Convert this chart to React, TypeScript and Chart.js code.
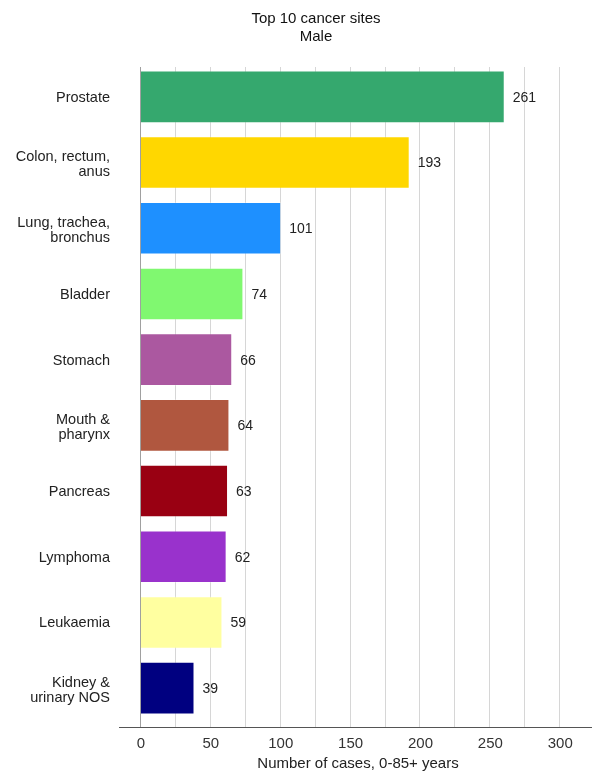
import React, { useEffect, useRef } from "react";
import { Chart, registerables } from "chart.js";

Chart.register(...registerables);

const categories: (string | string[])[] = [
  "Prostate",
  ["Colon, rectum,", "anus"],
  ["Lung, trachea,", "bronchus"],
  "Bladder",
  "Stomach",
  ["Mouth &", "pharynx"],
  "Pancreas",
  "Lymphoma",
  "Leukaemia",
  ["Kidney &", "urinary NOS"],
];
const cases = [261, 193, 101, 74, 66, 64, 63, 62, 59, 39];
const barColors = [
  "#35A86E",
  "#FFD700",
  "#1E90FF",
  "#80F870",
  "#AB58A0",
  "#B0573F",
  "#990012",
  "#9932CC",
  "#FFFFA0",
  "#000080",
];
const gridValues = [0, 25, 50, 75, 100, 125, 150, 175, 200, 225, 250, 275, 300];
const titleLines = ["Top 10 cancer sites", "Male"];
const xAxisTitle = "Number of cases, 0-85+ years";

const FONT = "'Liberation Sans', Arial, sans-serif";

export default function App() {
  const ref = useRef<HTMLCanvasElement | null>(null);
  useEffect(() => {
    document.body.style.margin = "0";
    const canvas = ref.current!;
    const decor = {
      id: "decor",
      beforeDatasetsDraw(chart: any) {
        const ctx = chart.ctx;
        const xs = chart.scales.x;
        ctx.save();
        ctx.strokeStyle = "#d6d6d6";
        ctx.lineWidth = 1;
        gridValues.forEach((v) => {
          const px = Math.round(xs.getPixelForValue(v)) + 0.5;
          ctx.beginPath();
          ctx.moveTo(px, 67);
          ctx.lineTo(px, 727);
          ctx.stroke();
        });
        ctx.restore();
      },
      afterDraw(chart: any) {
        const ctx = chart.ctx;
        const xs = chart.scales.x;
        const ys = chart.scales.y;
        ctx.save();
        // titles
        ctx.fillStyle = "#111";
        ctx.font = `15px ${FONT}`;
        ctx.textAlign = "center";
        ctx.textBaseline = "middle";
        ctx.fillText(titleLines[0], 316, 19);
        ctx.fillText(titleLines[1], 316, 37);
        // y axis line
        const x0 = Math.round(xs.getPixelForValue(0)) + 0.5;
        ctx.strokeStyle = "#a0a0a0";
        ctx.lineWidth = 1;
        ctx.beginPath();
        ctx.moveTo(x0, 67);
        ctx.lineTo(x0, 727);
        ctx.stroke();
        // bottom axis line
        ctx.strokeStyle = "#555";
        ctx.beginPath();
        ctx.moveTo(119, 727.5);
        ctx.lineTo(592, 727.5);
        ctx.stroke();
        // x tick labels
        ctx.fillStyle = "#333";
        ctx.font = `15px ${FONT}`;
        gridValues.forEach((v) => {
          if (v % 50 === 0) ctx.fillText(String(v), xs.getPixelForValue(v) + 1, 744);
        });
        // x axis title
        ctx.fillStyle = "#222";
        ctx.fillText(xAxisTitle, 358, 764);
        // y category labels
        ctx.font = `14.5px ${FONT}`;
        ctx.textAlign = "right";
        categories.forEach((c, i) => {
          const cy = ys.getPixelForValue(i);
          if (Array.isArray(c)) {
            ctx.fillText(c[0], 110, cy - 5.5);
            ctx.fillText(c[1], 110, cy + 9.5);
          } else {
            ctx.fillText(c, 110, cy + 1);
          }
        });
        // value labels
        ctx.font = `14px ${FONT}`;
        ctx.textAlign = "left";
        ctx.fillStyle = "#222";
        const meta = chart.getDatasetMeta(0);
        meta.data.forEach((bar: any, i: number) => {
          ctx.fillText(String(cases[i]), bar.x + 8, bar.y + 1);
        });
        ctx.restore();
      },
    };
    const chart = new Chart(canvas, {
      type: "bar",
      data: {
        labels: categories,
        datasets: [
          {
            data: cases,
            backgroundColor: barColors,
            borderColor: "rgba(255,255,255,0.25)",
            borderWidth: 1,
            barPercentage: 0.8,
            categoryPercentage: 1,
          },
        ],
      },
      options: {
        indexAxis: "y",
        animation: false,
        responsive: false,
        maintainAspectRatio: false,
        layout: { padding: { top: 64, right: 16, left: 0, bottom: 0 } },
        plugins: {
          legend: { display: false },
          tooltip: { enabled: false },
          title: { display: false },
        },
        scales: {
          x: {
            min: 0,
            max: 312,
            grid: { display: false, drawTicks: false },
            border: { display: false },
            ticks: { display: false },
            afterFit: (s: any) => {
              s.height = 55;
            },
          },
          y: {
            grid: { display: false, drawTicks: false },
            border: { display: false },
            ticks: { display: false },
            afterFit: (s: any) => {
              s.width = 140;
            },
          },
        },
      },
      plugins: [decor],
    });
    return () => chart.destroy();
  }, []);
  return <canvas ref={ref} width={592} height={776} style={{ display: "block" }} />;
}
